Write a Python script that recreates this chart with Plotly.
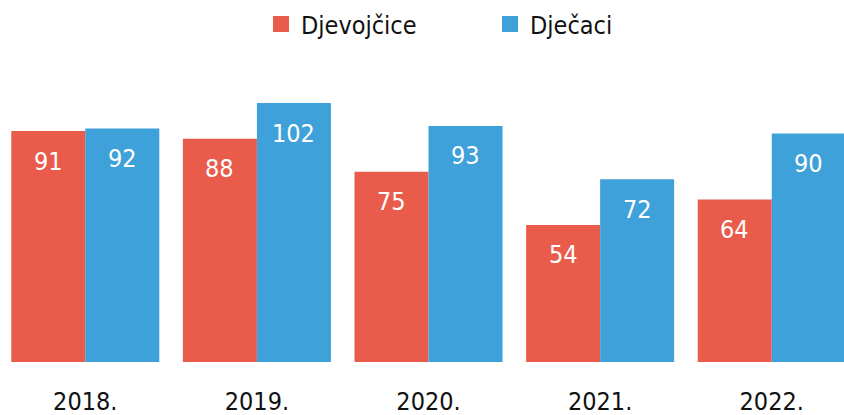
import plotly.graph_objects as go

years = ["2018.", "2019.", "2020.", "2021.", "2022."]
djevojcice = [91, 88, 75, 54, 64]
djecaci = [92, 102, 93, 72, 90]
series_names = ["Djevojčice", "Dječaci"]
colors = ["#E95B4A", "#3FA1DA"]

FONT = "DejaVu Sans Condensed, Liberation Sans Narrow, sans-serif"
FS = 25

fig = go.Figure()
for name, vals, col in zip(series_names, [djevojcice, djecaci], colors):
    fig.add_trace(go.Bar(
        x=years, y=vals, name=name, marker=dict(color=col, line=dict(width=0)),
        showlegend=False, hoverinfo="skip",
    ))
    fig.add_trace(go.Scatter(
        x=[None], y=[None], mode="markers", name=name,
        marker=dict(symbol="square", size=18, color=col),
        showlegend=True,
    ))

# value labels inside bars
for i, vals in enumerate([djevojcice, djecaci]):
    for j, v in enumerate(vals):
        fig.add_annotation(
            x=j, y=v, xref="x", yref="y", text=str(v), showarrow=False,
            xshift=(-37 if i == 0 else 37), yshift=-30,
            font=dict(family=FONT, size=FS, color="white"),
        )

fig.update_layout(
    width=844, height=415,
    margin=dict(l=0, r=0, t=80, b=53),
    plot_bgcolor="white", paper_bgcolor="white",
    barmode="group", bargap=0.1375, bargroupgap=0,
    font=dict(family=FONT, size=FS, color="#111111"),
    legend=dict(
        orientation="h", x=0.5806, xanchor="center", y=0.997, yanchor="top",
        yref="container", font=dict(family=FONT, size=FS, color="#111111"),
        itemsizing="trace", entrywidth=184, entrywidthmode="pixels",
    ),
    xaxis=dict(
        type="category", range=[-0.497, 4.421], showgrid=False, zeroline=False,
        showline=False, ticks="outside", ticklen=17, tickcolor="rgba(0,0,0,0)",
        tickfont=dict(family=FONT, size=FS, color="#111111"),
    ),
    yaxis=dict(range=[0, 111.1], visible=False, showgrid=False, zeroline=False),
)

fig.write_html("out.html", config={"displayModeBar": False},
               post_script="document.body.style.margin='0';")
